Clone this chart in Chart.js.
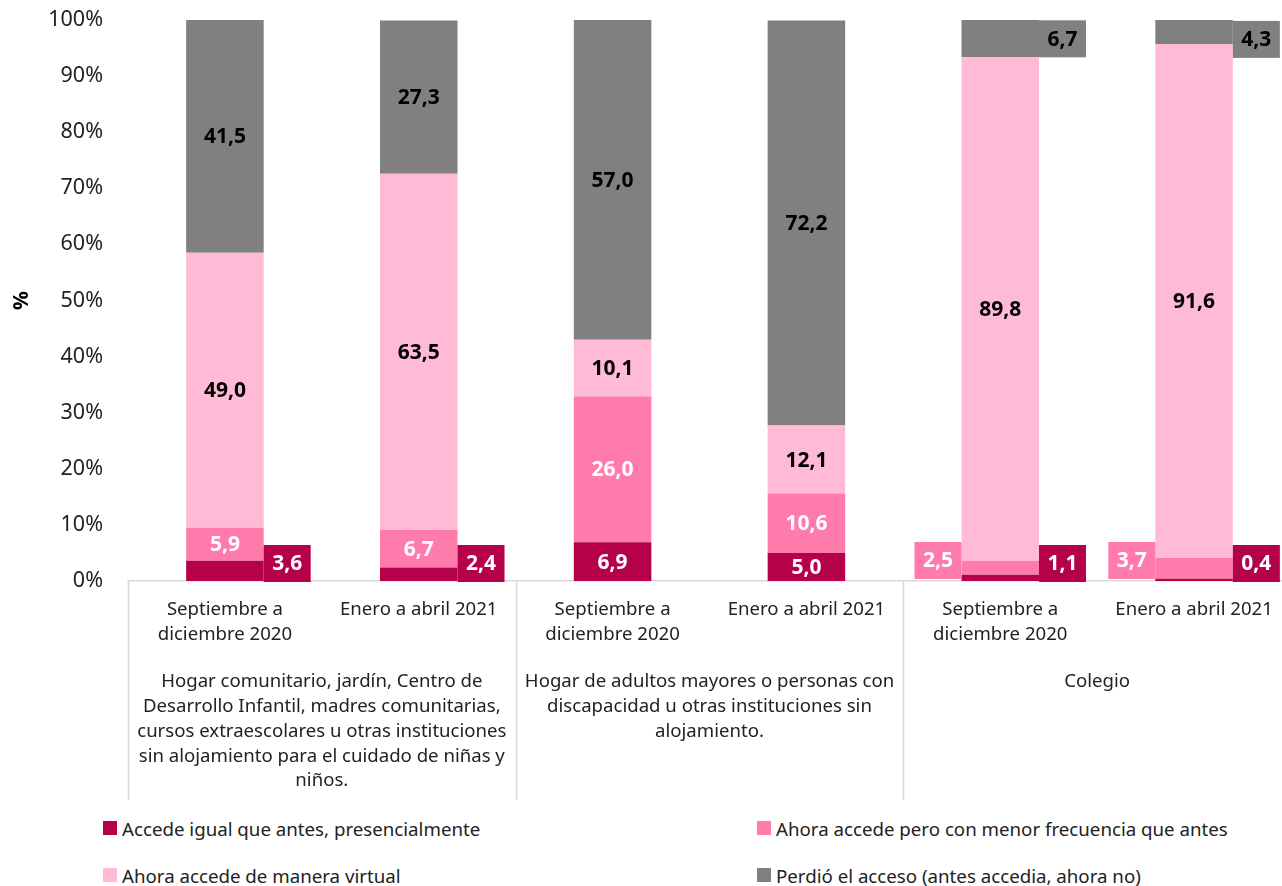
<!DOCTYPE html>
<html>
<head>
<meta charset="utf-8">
<script src="https://cdn.jsdelivr.net/npm/chart.js@4.4.1/dist/chart.umd.min.js"></script>
<style>
  body { margin: 0; background: #fff; font-family: "Noto Sans", sans-serif; }
  #wrap { position: relative; width: 1282px; height: 886px; overflow: hidden; }
  #chart { position: absolute; left: 0; top: -18px; }
  .leg { position: absolute; font-size: 18.7px; color: #222; display: flex; align-items: center; white-space: nowrap; }
  .leg span { display: inline-block; width: 14px; height: 14px; margin-right: 5px; }
</style>
</head>
<body>
<div id="wrap">
  <canvas id="chart" width="1291" height="818"></canvas>
  <div id="legend"></div>
</div>
<script>
// categorías (dos niveles)
const periodos = [
  ['Septiembre a', 'diciembre 2020'], 'Enero a abril 2021',
  ['Septiembre a', 'diciembre 2020'], 'Enero a abril 2021',
  ['Septiembre a', 'diciembre 2020'], 'Enero a abril 2021'
];
const grupos = [
  ['Hogar comunitario, jardín, Centro de', 'Desarrollo Infantil, madres comunitarias,', 'cursos extraescolares u otras instituciones', 'sin alojamiento para el cuidado de niñas y', 'niños.'],
  ['Hogar de adultos mayores o personas con', 'discapacidad u otras instituciones sin', 'alojamiento.'],
  'Colegio'
];

// series (%)
const accedeIgual   = [3.6, 2.4, 6.9, 5.0, 1.1, 0.4];
const menorFrec     = [5.9, 6.7, 26.0, 10.6, 2.5, 3.7];
const virtual       = [49.0, 63.5, 10.1, 12.1, 89.8, 91.6];
const perdio        = [41.5, 27.3, 57.0, 72.2, 6.7, 4.3];

const series = [
  { label: 'Accede igual que antes, presencialmente', data: accedeIgual, color: '#B5004A', text: '#fff' },
  { label: 'Ahora accede pero con menor frecuencia que antes', data: menorFrec, color: '#FF7BAC', text: '#fff' },
  { label: 'Ahora accede de manera virtual', data: virtual, color: '#FFBAD6', text: '#000' },
  { label: 'Perdió el acceso (antes accedia, ahora no)', data: perdio, color: '#808080', text: '#000' }
];

const fmt = v => v.toFixed(1).replace('.', ',');

// etiquetas de datos, en un recuadro al lado cuando el tramo es muy pequeño
const labelPlugin = {
  id: 'labels',
  afterDatasetsDraw(chart) {
    const ctx = chart.ctx;
    const zero = chart.scales.y.getPixelForValue(0);
    ctx.save();
    ctx.font = 'bold 21px "Noto Sans"';
    ctx.textAlign = 'center';
    ctx.textBaseline = 'middle';
    chart.data.datasets.forEach((ds, i) => {
      const meta = chart.getDatasetMeta(i);
      meta.data.forEach((el, j) => {
        const txt = fmt(ds.data[j]);
        const h = Math.abs(el.base - el.y);
        let cx = el.x, cy = (el.y + el.base) / 2;
        const bw = 47, bh = 37;
        let box = null;
        if (h < 25 && i === 0) box = [el.x + el.width / 2, zero - bh + 1];
        if (h < 25 && i === 1) box = [el.x - el.width / 2 - bw, zero - bh - 2];
        if (h < 40 && i === 3) box = [el.x + el.width / 2, el.y + 1];
        if (box) {
          ctx.fillStyle = ds.backgroundColor;
          ctx.fillRect(box[0], box[1], bw, bh);
          cx = box[0] + bw / 2; cy = box[1] + bh / 2;
        }
        ctx.fillStyle = series[i].text;
        ctx.fillText(txt, cx, cy + 1);
      });
    });
    ctx.restore();
  }
};

// líneas separadoras de los grupos
const sepPlugin = {
  id: 'separators',
  afterDraw(chart) {
    const x = chart.scales.x, x2 = chart.scales.x2;
    const ctx = chart.ctx;
    const step = x.getPixelForValue(1) - x.getPixelForValue(0);
    const xs = [x.left, x.getPixelForValue(1) + step / 2, x.getPixelForValue(3) + step / 2, x.right];
    ctx.save();
    ctx.strokeStyle = '#d9d9d9';
    ctx.lineWidth = 1.5;
    xs.forEach(px => {
      ctx.beginPath();
      ctx.moveTo(Math.round(px) + 0.5, chart.chartArea.bottom);
      ctx.lineTo(Math.round(px) + 0.5, x2.bottom);
      ctx.stroke();
    });
    ctx.restore();
  }
};

new Chart(document.getElementById('chart'), {
  type: 'bar',
  data: {
    labels: periodos,
    datasets: series.map(s => ({
      label: s.label,
      data: s.data,
      backgroundColor: s.color,
      barPercentage: 0.4,
      categoryPercentage: 1
    }))
  },
  options: {
    responsive: false,
    animation: false,
    layout: { padding: 0 },
    plugins: { legend: { display: false }, tooltip: { enabled: false } },
    scales: {
      x: {
        stacked: true,
        grid: { display: false, drawTicks: false },
        border: { display: true, color: '#d9d9d9', width: 1.5 },
        ticks: { color: '#222', font: { family: 'Noto Sans', size: 18.6, lineHeight: 1.34 }, padding: 16, maxRotation: 0, autoSkip: false },
        afterFit: s => { s.height = 82; }
      },
      x2: {
        type: 'category',
        labels: grupos,
        position: 'bottom',
        offset: true,
        grid: { display: false, drawTicks: false },
        border: { display: false },
        ticks: { color: '#222', font: { family: 'Noto Sans', size: 18.6, lineHeight: 1.34 }, padding: 6, maxRotation: 0, autoSkip: false },
        afterFit: s => { s.height = 137; }
      },
      y: {
        stacked: true,
        min: 0, max: 100,
        grid: { display: false, drawTicks: false },
        border: { display: false },
        ticks: { stepSize: 10, color: '#222', font: { family: 'Noto Sans', size: 21.5 }, padding: 25, callback: v => v + '%' },
        title: { display: true, text: '%', color: '#000', font: { family: 'Noto Sans', size: 21, weight: 'bold' }, padding: { top: 9, bottom: 4 } },
        afterFit: s => { s.width = 128; }
      }
    }
  },
  plugins: [labelPlugin, sepPlugin]
});

// leyenda en dos columnas
const legPos = [[103, 828], [757, 828], [103, 875], [757, 875]];
const legend = document.getElementById('legend');
series.forEach((s, i) => {
  const d = document.createElement('div');
  d.className = 'leg';
  d.style.left = legPos[i][0] + 'px';
  d.style.top = (legPos[i][1] - 13) + 'px';
  d.style.height = '26px';
  d.innerHTML = '<span style="background:' + s.color + '"></span>' + s.label;
  legend.appendChild(d);
});
</script>
</body>
</html>
